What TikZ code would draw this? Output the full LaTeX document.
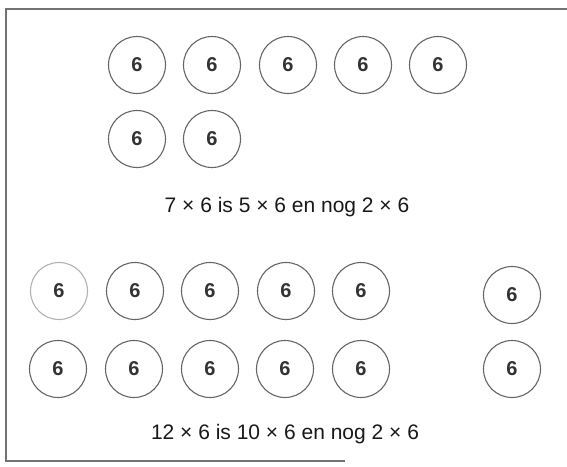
\documentclass[tikz,border=0pt]{standalone}
\usepackage{fontspec}
\setmainfont{Liberation Sans}
\begin{document}
\begin{tikzpicture}[x=1pt,y=-1pt,
  frame/.style={draw=black!55,line width=1.3pt},
  six/.style={circle,draw=black!60,line width=1.1pt,minimum size=57pt,inner sep=0pt,
    font=\fontsize{20}{20}\selectfont\bfseries,text=black!80},
  faint/.style={draw=black!30},
  caption/.style={font=\fontsize{21}{21}\selectfont,text=black!90,inner sep=0pt}]
\useasboundingbox[fill=white] (0,0) rectangle (567,466);
\coordinate (tr) at (567,9);
\coordinate (tl) at (6,9);
\coordinate (bl) at (6,461);
\coordinate (br) at (345,461);
\draw[frame] (tr) -- (tl) -- (bl) -- (br);
% top group
\node[six] (a1) at (137,65) {6};
\node[six] (a2) at (212,65) {6};
\node[six] (a3) at (288,65) {6};
\node[six] (a4) at (363,65) {6};
\node[six] (a5) at (438,65) {6};
\node[six] (b1) at (137,139) {6};
\node[six] (b2) at (212,139) {6};
\node[caption] (t1) at (287,207) {7 × 6 is 5 × 6 en nog 2 × 6};
% bottom group
\node[six,faint] (c1) at (59,291) {6};
\node[six] (c2) at (135,291) {6};
\node[six] (c3) at (210,291) {6};
\node[six] (c4) at (286,291) {6};
\node[six] (c5) at (361,291) {6};
\node[six] (c6) at (512,295) {6};
\node[six] (d1) at (58,369) {6};
\node[six] (d2) at (134,369) {6};
\node[six] (d3) at (210,369) {6};
\node[six] (d4) at (285,369) {6};
\node[six] (d5) at (361,369) {6};
\node[six] (d6) at (512,369) {6};
\node[caption] (t2) at (285,434) {12 × 6 is 10 × 6 en nog 2 × 6};
\end{tikzpicture}
\end{document}
